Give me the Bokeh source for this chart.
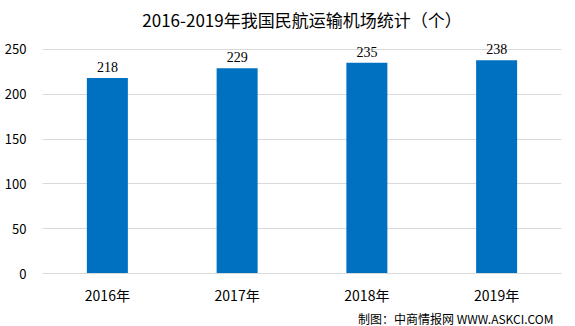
from bokeh.plotting import figure
from bokeh.models import ColumnDataSource, Title, LabelSet
from bokeh.embed import file_html
from bokeh.resources import INLINE

categories = ["2016年", "2017年", "2018年", "2019年"]
values = [218, 229, 235, 238]
labels = [str(v) for v in values]
y_ticks = [0, 50, 100, 150, 200, 250]

FONT = "Noto Sans CJK SC"

src = ColumnDataSource(dict(cat=categories, val=values, lab=labels))

p = figure(x_range=categories, y_range=(0, 270), width=575, height=326,
           output_backend="svg", toolbar_location=None,
           min_border_left=42, min_border_right=14, min_border_top=31, min_border_bottom=53)

p.vbar(x="cat", top="val", width=0.316, source=src, color="#0070C0", line_color=None)

p.add_layout(LabelSet(x="cat", y="val", text="lab", source=src, text_align="center",
                      text_baseline="bottom", y_offset=6, text_font=FONT,
                      text_font_size="14px", text_color="#000000"))

p.title = Title(text="2016-2019年我国民航运输机场统计（个）", align="center",
                text_font=FONT, text_font_size="17px", text_font_style="normal",
                text_color="#000000", standoff=0)
p.add_layout(Title(text="制图：中商情报网 WWW.ASKCI.COM", align="right",
                   text_font=FONT, text_font_size="12px", text_font_style="normal",
                   text_color="#000000", standoff=0, offset=8), "below")

p.yaxis.ticker = y_ticks
p.yaxis.axis_line_color = None
p.yaxis.major_tick_line_color = None
p.yaxis.minor_tick_line_color = None
p.yaxis.major_label_standoff = 10
p.yaxis.major_label_text_font = FONT
p.yaxis.major_label_text_font_size = "13px"
p.yaxis.major_label_text_color = "#000000"

p.xaxis.axis_line_color = "#d9d9d9"
p.xaxis.major_tick_line_color = None
p.xaxis.minor_tick_line_color = None
p.xaxis.major_label_standoff = 5
p.xaxis.major_label_text_font = FONT
p.xaxis.major_label_text_font_size = "14px"
p.xaxis.major_label_text_color = "#000000"

p.xgrid.grid_line_color = None
p.ygrid.grid_line_color = "#d9d9d9"
p.outline_line_color = None
p.x_range.range_padding = 0

open("out.html", "w").write(file_html(p, INLINE))
